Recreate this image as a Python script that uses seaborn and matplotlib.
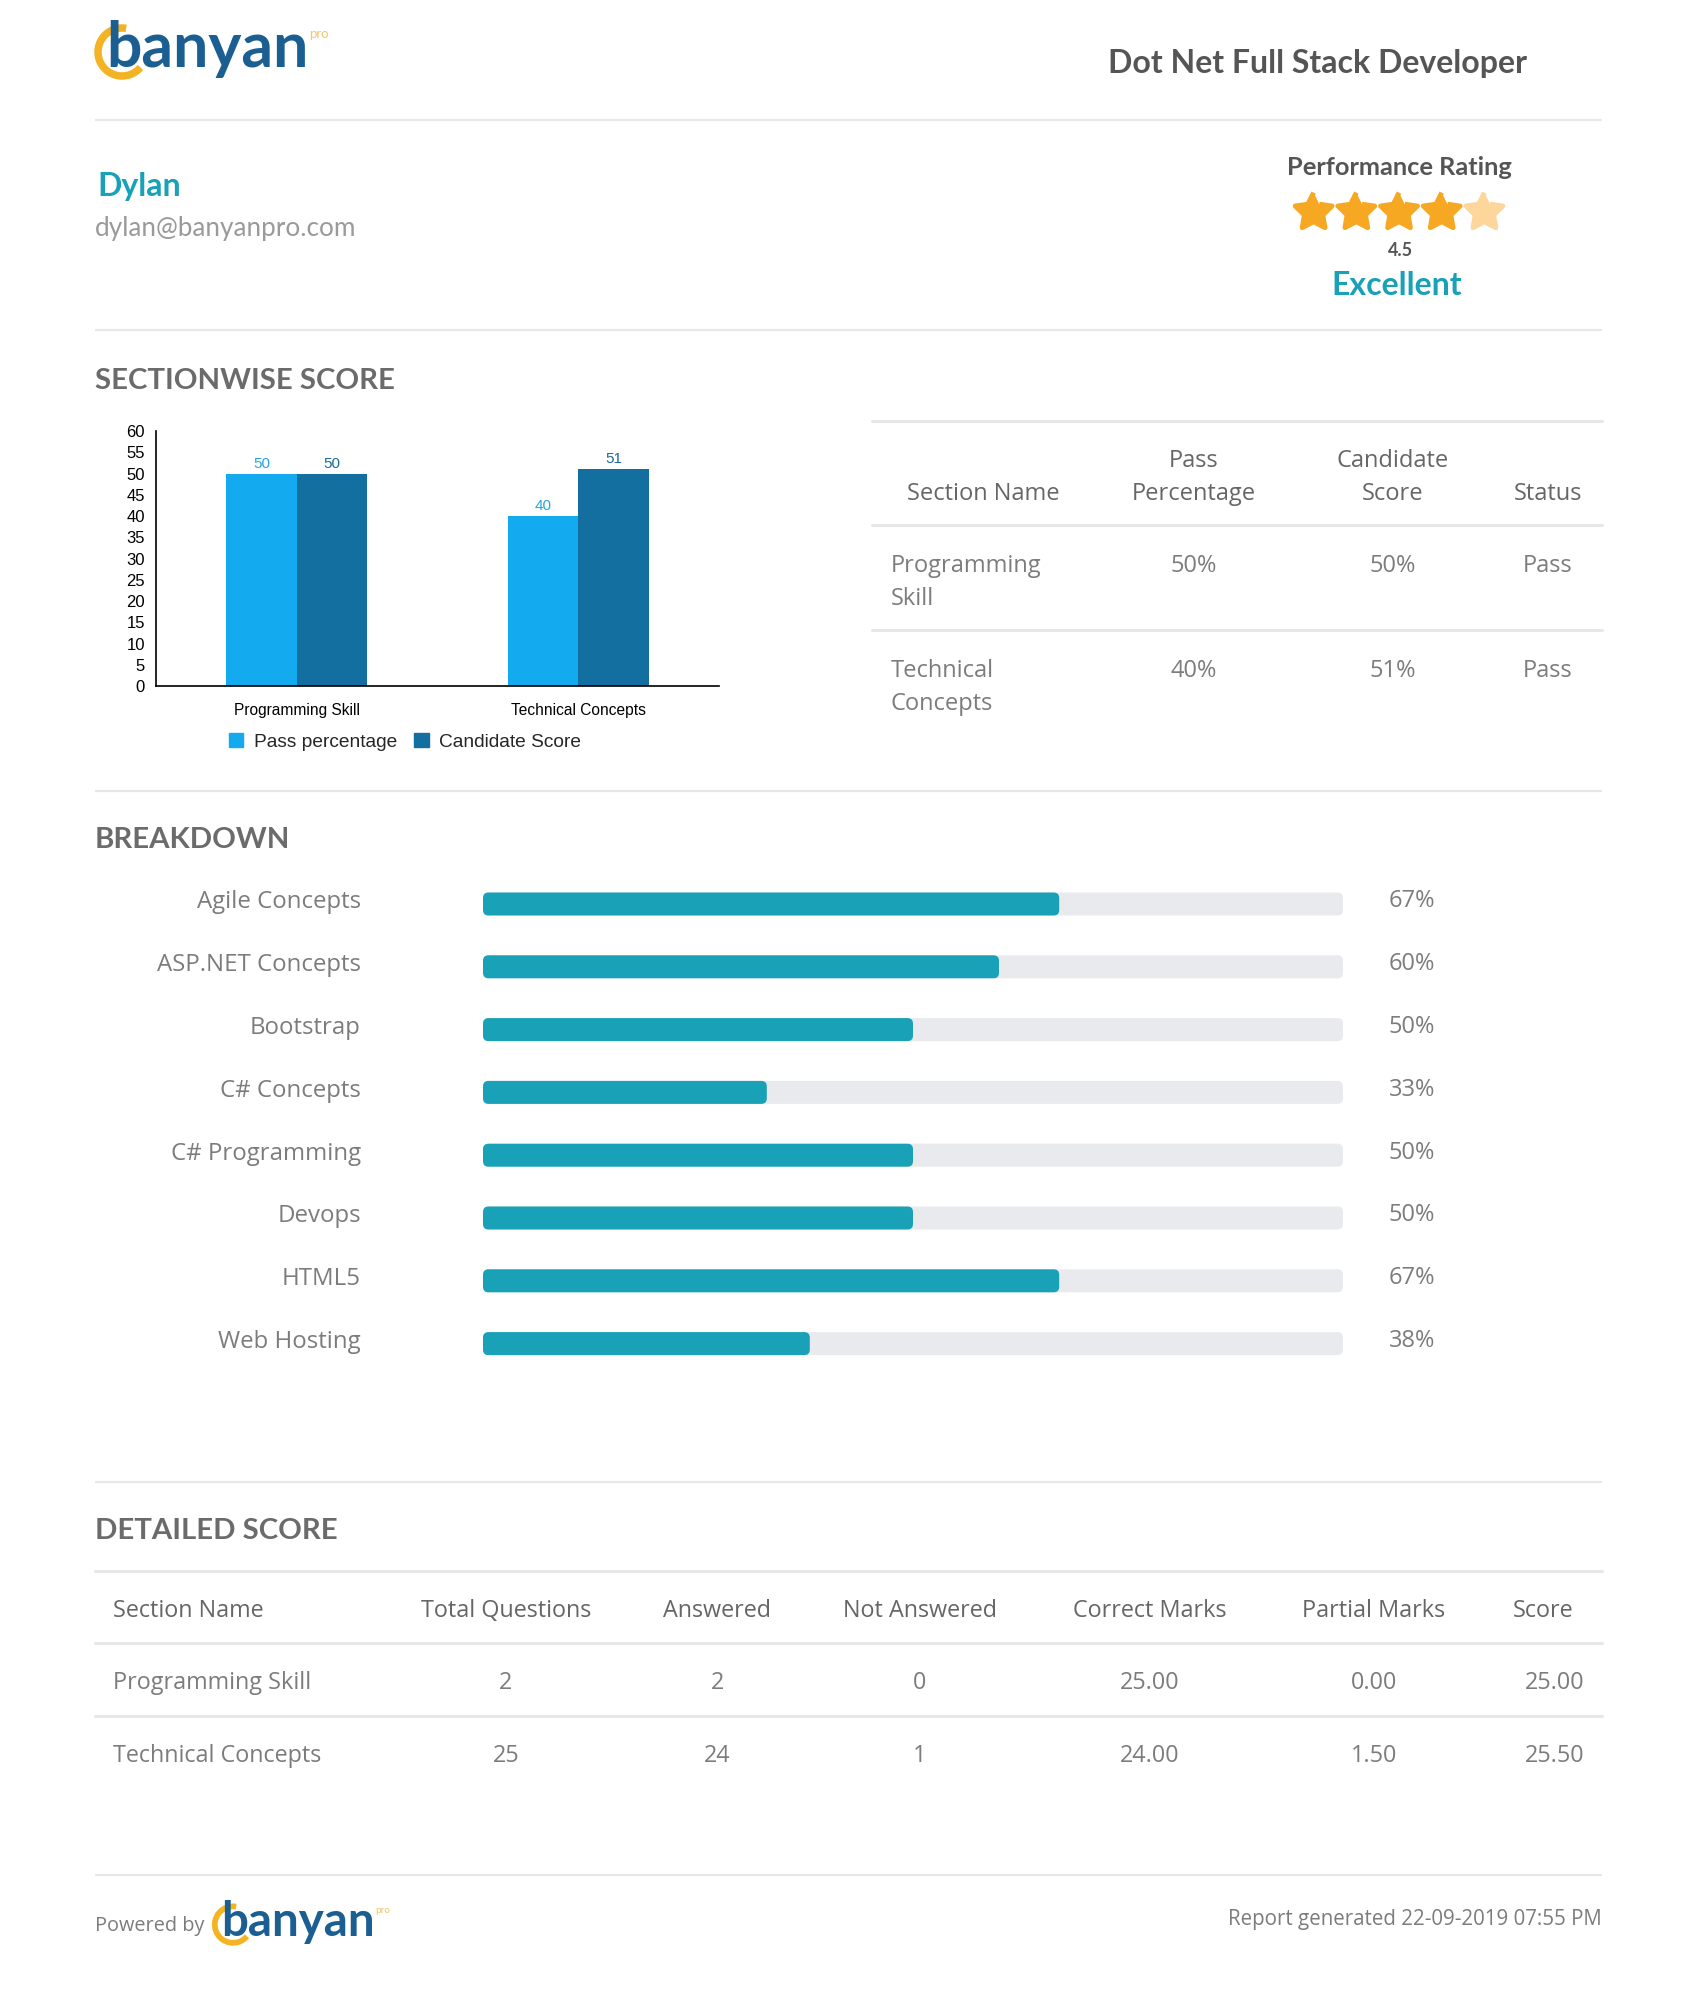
import numpy as np
import pandas as pd
import matplotlib
matplotlib.use("Agg")
import matplotlib.pyplot as plt
import seaborn as sns
from matplotlib.patches import Arc, FancyBboxPatch, Patch
from matplotlib.transforms import blended_transform_factory, ScaledTranslation

# ---------------- data ----------------
job_title = "Dot Net Full Stack Developer"
candidate_name = "Dylan"
candidate_email = "dylan@banyanpro.com"
rating_value = 4.5
rating_max = 5
rating_label = "Excellent"

sections = ["Programming Skill", "Technical Concepts"]
series_names = ["Pass percentage", "Candidate Score"]
pass_percentage = [50, 40]
candidate_score = [50, 51]
section_status = ["Pass", "Pass"]
y_ticks = list(range(0, 61, 5))

topics = ["Agile Concepts", "ASP.NET Concepts", "Bootstrap", "C# Concepts",
          "C# Programming", "Devops", "HTML5", "Web Hosting"]
topic_scores = [67, 60, 50, 33, 50, 50, 67, 38]
topic_max = 100

detail_columns = ["Section Name", "Total Questions", "Answered", "Not Answered",
                  "Correct Marks", "Partial Marks", "Score"]
total_questions = [2, 25]
answered = [2, 24]
not_answered = [0, 1]
correct_marks = [25.00, 24.00]
partial_marks = [0.00, 1.50]
final_scores = [25.00, 25.50]

report_time = "Report generated 22-09-2019 07:55 PM"

# ---------------- style ----------------
sns.set_style("white")
plt.rcParams["font.family"] = ["Open Sans", "DejaVu Sans"]
HEAD = ["Lato", "DejaVu Sans"]
BODY = ["Open Sans", "DejaVu Sans"]
CHART = ["Liberation Sans", "DejaVu Sans"]

TEAL = "#19a1b7"
TRACK = "#e8eaed"
LIGHT = "#14aaf0"
DARK = "#146fa1"
GREY_H = "#6b6b6b"
GREY_T = "#7c7c7c"
RULE = "#e7e7e7"
LOGO_BLUE = "#1b5f92"
LOGO_YEL = "#f4b323"
STAR = "#f6a823"
STAR_LIGHT = "#fcd69a"

W, H = 1702, 1993
fig = plt.figure(figsize=(W / 100, H / 100), dpi=100)
fig.patch.set_facecolor("white")
page = fig.add_axes([0, 0, 1, 1])
page.set_xlim(0, W)
page.set_ylim(H, 0)
page.axis("off")


def px_axes(l, t, r, b):
    return fig.add_axes([l / W, 1 - b / H, (r - l) / W, (b - t) / H])


def rule(y, x0=95, x1=1602, lw=1.6, color=RULE):
    page.plot([x0, x1], [y, y], color=color, lw=lw, solid_capstyle="butt")


def txt(x, y, s, size, color=GREY_T, ha="left", va="center", family=BODY, weight="normal"):
    page.text(x, y, s, fontsize=size, color=color, ha=ha, va=va, family=family, weight=weight)


def draw_logo(x0, baseline, s):
    page.add_patch(Arc((x0 + 25 * s, baseline - 15 * s), 48 * s, 48 * s, theta1=40, theta2=280,
                       lw=5.4 * s, color=LOGO_YEL, zorder=2))
    page.text(x0 + 9 * s, baseline, "banyan", fontsize=45 * s, family=HEAD, weight="bold",
              color=LOGO_BLUE, ha="left", va="baseline", zorder=3)
    page.text(x0 + 212 * s, baseline - 33 * s, "pro", fontsize=9.5 * s, family=HEAD,
              color="#f3c66a", ha="left", va="center", zorder=3)


# ---------------- header ----------------
draw_logo(97, 67, 1.0)
txt(1527, 63, job_title, 23, color="#555555", ha="right", family=HEAD, weight="bold")
rule(119.5)

txt(97, 186, candidate_name, 23, color=TEAL, family=HEAD, weight="bold")
txt(95, 228, candidate_email, 18.8, color="#9a9a9a", family=HEAD)

txt(1399, 167, "Performance Rating", 18.3, color="#555555", ha="center", family=HEAD, weight="bold")
# fat, rounded star marker shape
ang = np.pi / 2 + np.arange(10) * np.pi / 5
rr = np.where(np.arange(10) % 2 == 0, 1.0, 0.5)
star_shape = np.column_stack([rr * np.cos(ang), rr * np.sin(ang)])
star_idx = np.arange(rating_max)
star_x = 1399 + (star_idx - (rating_max - 1) / 2) * 42.7
star_cols = [STAR if i + 1 <= rating_value else STAR_LIGHT for i in star_idx]
sc = page.scatter(star_x, np.full(rating_max, 212.0), marker=star_shape, s=780, c=star_cols,
                  edgecolors=star_cols, linewidths=3.5, zorder=3)
sc.set_joinstyle("round")
txt(1401, 250, f"{rating_value}", 13, color="#555555", ha="center", family=HEAD, weight="bold")
txt(1397, 285, rating_label, 23, color=TEAL, ha="center", family=HEAD, weight="bold")
rule(330)

# ---------------- sectionwise score ----------------
txt(95, 381, "SECTIONWISE SCORE", 21.2, color=GREY_H, family=HEAD, weight="bold")

ax1 = px_axes(156, 431, 719, 686)
df1 = pd.DataFrame({
    "Section": sections * 2,
    "Series": [series_names[0]] * len(sections) + [series_names[1]] * len(sections),
    "Value": pass_percentage + candidate_score,
})
sns.barplot(data=df1, x="Section", y="Value", hue="Series", palette=[LIGHT, DARK],
            width=0.5, saturation=1, errorbar=None, linewidth=0, ax=ax1)
for cont, col in zip(ax1.containers, ["#25a6e2", "#1a6a9c"]):
    ax1.bar_label(cont, color=col, fontsize=11, padding=2, family=CHART)
if ax1.get_legend() is not None:
    ax1.get_legend().remove()
ax1.set_ylim(0, 60)
ax1.set_yticks(y_ticks)
ax1.set_yticklabels([str(t) for t in y_ticks], family=CHART, fontsize=12)
ax1.set_xlim(-0.5, len(sections) - 0.5)
ax1.set_xticks(np.arange(len(sections) + 1) - 0.5, labels=[""] * (len(sections) + 1))
ax1.set_xticks(np.arange(len(sections)), labels=sections, minor=True)
for lbl in ax1.get_xticklabels(minor=True):
    lbl.set_family(CHART)
    lbl.set_fontsize(11.2)
ax1.tick_params(axis="x", which="major", length=8, width=1.2, color="black", direction="out")
ax1.tick_params(axis="x", which="minor", length=0, pad=12, labelcolor="black")
ax1.tick_params(axis="y", length=6, width=1.0, color="black", direction="out", pad=2, labelcolor="black")
ax1.set_xlabel("")
ax1.set_ylabel("")
for sp in ["top", "right"]:
    ax1.spines[sp].set_visible(False)
for sp in ["left", "bottom"]:
    ax1.spines[sp].set_color("black")
    ax1.spines[sp].set_linewidth(1.2)
ax1.patch.set_alpha(0)

leg_handles = [Patch(color=LIGHT), Patch(color=DARK)]
fig.legend(leg_handles, series_names, loc="center", bbox_to_anchor=(405 / W, 1 - 742 / H), ncol=2,
           frameon=False, handlelength=0.75, handleheight=0.75, handletextpad=0.55,
           columnspacing=0.9, prop={"family": CHART, "size": 13.8})

# right-hand table
tbl_l, tbl_r = 872, 1602
for yl in [421, 525, 630]:
    page.plot([tbl_l, tbl_r], [yl, yl], color=RULE, lw=2.2)
col_c = [983, 1194, 1393, 1548]
HS = 17
txt(col_c[0], 494, "Section Name", HS, color="#666666", ha="center")
txt(col_c[1], 461, "Pass", HS, color="#666666", ha="center")
txt(col_c[1], 494, "Percentage", HS, color="#666666", ha="center")
txt(col_c[2], 461, "Candidate", HS, color="#666666", ha="center")
txt(col_c[2], 494, "Score", HS, color="#666666", ha="center")
txt(col_c[3], 494, "Status", HS, color="#666666", ha="center")
row_y = [566, 671]
for i, name in enumerate(sections):
    first, second = name.split(" ", 1)
    txt(891, row_y[i], first, HS, color=GREY_T)
    txt(891, row_y[i] + 33, second, HS, color=GREY_T)
    txt(col_c[1], row_y[i], f"{pass_percentage[i]}%", HS, color=GREY_T, ha="center")
    txt(col_c[2], row_y[i], f"{candidate_score[i]}%", HS, color=GREY_T, ha="center")
    txt(col_c[3], row_y[i], section_status[i], HS, color=GREY_T, ha="center")
rule(791)

# ---------------- breakdown ----------------
txt(95, 840, "BREAKDOWN", 21.2, color=GREY_H, family=HEAD, weight="bold")
b_left, b_right = 483, 1343
row_h = 62.8
b_top = 904 - row_h / 2
b_bot = b_top + row_h * len(topics)
ax2 = px_axes(b_left, b_top, b_right, b_bot)
bar_w = 23 / row_h
sns.barplot(x=[topic_max] * len(topics), y=topics, color=TRACK, width=bar_w, saturation=1,
            orient="h", ax=ax2)
sns.barplot(x=topic_scores, y=topics, color=TEAL, width=bar_w, saturation=1, orient="h", ax=ax2)
ax2.set_xlim(0, topic_max)
ax2.set_ylim(len(topics) - 0.5, -0.5)
px_per_x = (b_right - b_left) / topic_max
asp = px_per_x / row_h
rad = 5.5 / px_per_x
for p in list(ax2.patches):
    x, y = p.get_xy()
    w, h = p.get_width(), p.get_height()
    fc = p.get_facecolor()
    p.remove()
    ax2.add_patch(FancyBboxPatch((x, y), w, h, boxstyle=f"round,pad=0,rounding_size={rad}",
                                 mutation_aspect=asp, fc=fc, ec="none", clip_on=False))
ax2.set_xticks([])
ax2.set_yticks(np.arange(len(topics)), labels=topics)
ax2.tick_params(axis="y", length=0, pad=88, labelsize=17.3, labelcolor=GREY_T)
lift = ScaledTranslation(0, 4.5 / 100, fig.dpi_scale_trans)
for lbl in ax2.get_yticklabels():
    lbl.set_transform(lbl.get_transform() + lift)
ax2.set_xlabel("")
ax2.set_ylabel("")
for sp in ax2.spines.values():
    sp.set_visible(False)
ax2.patch.set_alpha(0)
trans = blended_transform_factory(ax2.transAxes, ax2.transData)
for i, v in enumerate(topic_scores):
    ax2.text((1389 - b_left) / (b_right - b_left), i - 0.04, f"{v}%", transform=trans,
             ha="left", va="center", fontsize=17, color=GREY_T, family=BODY)
rule(1482)

# ---------------- detailed score ----------------
txt(95, 1531, "DETAILED SCORE", 21.2, color=GREY_H, family=HEAD, weight="bold")
for yl in [1571, 1643, 1716]:
    page.plot([95, 1602], [yl, yl], color=RULE, lw=2.2)
d_cent = [None, 506, 717, 920, 1150, 1374, 1543]
DS = 16.8
txt(113, 1611, detail_columns[0], DS, color="#666666")
for c in range(1, len(detail_columns)):
    txt(d_cent[c], 1611, detail_columns[c], DS, color="#666666", ha="center")
d_rows = [1683, 1756]
for i, name in enumerate(sections):
    y = d_rows[i]
    txt(113, y, name, DS)
    txt(d_cent[1], y, f"{total_questions[i]}", DS, ha="center")
    txt(d_cent[2], y, f"{answered[i]}", DS, ha="center")
    txt(d_cent[3], y, f"{not_answered[i]}", DS, ha="center")
    txt(d_cent[4], y, f"{correct_marks[i]:.2f}", DS, ha="center")
    txt(d_cent[5], y, f"{partial_marks[i]:.2f}", DS, ha="center")
    txt(1584, y, f"{final_scores[i]:.2f}", DS, ha="right")
rule(1875)

# ---------------- footer ----------------
txt(95, 1926, "Powered by", 14.3, color=GREY_T)
draw_logo(214, 1936, 0.76)
txt(1602, 1920, report_time, 14.8, color=GREY_T, ha="right")

fig.savefig("out.png", dpi=100, facecolor="white")
